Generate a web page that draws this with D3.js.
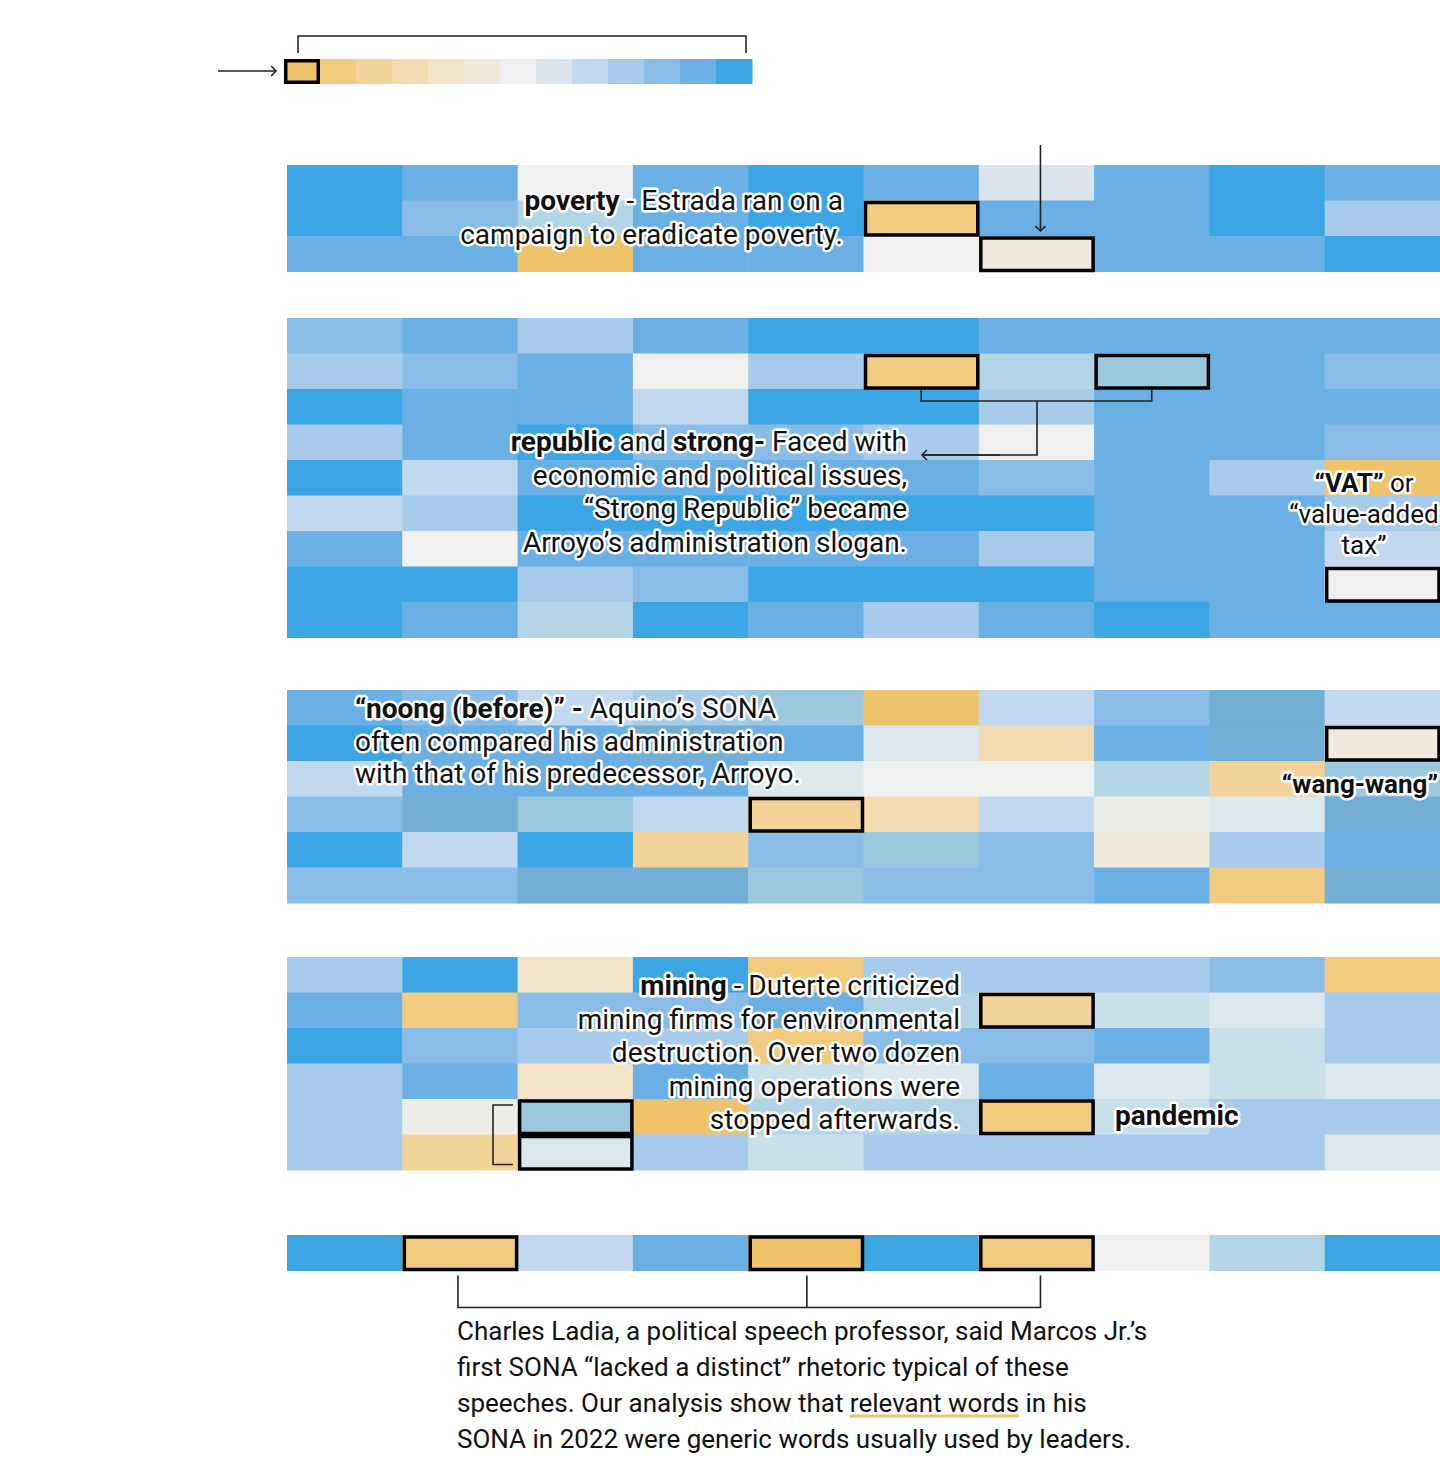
<!DOCTYPE html>
<html>
<head>
<meta charset="utf-8">
<script src="https://cdn.jsdelivr.net/npm/d3@7"></script>
<style>
  body { margin: 0; background: #fff; }
  svg { display: block; font-family: Roboto, "Noto Sans", sans-serif; }
  .halo { paint-order: stroke; stroke: #fff; stroke-width: 5px; stroke-linejoin: round; }
</style>
</head>
<body>
<div id="chart"></div>
<script>
// color steps: 0 = most "yellow" (rarely used), 12 = most "blue"
const palette = ["#eec36a","#f1cb80","#f3d39a","#f3dbb2","#f3e3c8","#f1e9dc","#f0f0f0",
                 "#dbe4ee","#c1d8ee","#a6cbeb","#89bde8","#6ab0e4","#3ca5e3"];
const altKeys = ["a1","a2","a3","a4","a5","a6"];
const altPalette = ["#73aed4","#9cc8df","#b3d6e7","#c8e0ea","#dbe8ee","#ecede9"];

const legendSteps = d3.range(13);

// one row per SONA, ten word columns
const estrada = [
  [12, 11, 6, 11, 12, 11, 7, 11, 12, 11],
  [12, 10, "a3", 11, 12, 1, 11, 11, 12, 9],
  [11, 11, 0, 11, 11, 6, 5, 11, 11, 12]
];
const arroyo = [
  [10, 11, 9, 11, 12, 12, 11, 11, 11, 11],
  [9, 10, 11, 6, 9, 1, "a3", "a2", 11, 10],
  [12, 11, 11, 8, 12, 12, 9, 11, 11, 11],
  [9, 11, 12, 10, 10, 9, 6, 11, 11, 10],
  [12, 8, 11, 11, 11, 11, 10, 11, 9, 0],
  [8, 9, 12, 12, 12, 12, 12, 11, 11, 9],
  [11, 6, 11, 11, 11, 11, 9, 11, 11, 8],
  [12, 12, 9, 10, 12, 12, 12, 11, 11, 6],
  [12, 11, "a3", 12, 11, 9, 11, 12, 11, 11]
];
const aquino = [
  [11, 10, 8, 9, "a2", 0, 8, 10, "a1", 8],
  [12, 11, 11, "a1", 11, "a5", 3, 11, "a1", 5],
  [8, 11, 11, 11, "a5", 6, 6, "a3", 2, "a2"],
  [10, "a1", "a2", 8, 2, 3, 8, "a6", "a5", "a1"],
  [12, 8, 12, 2, 10, "a2", 10, 5, 9, 11],
  [10, 10, "a1", "a1", "a2", 10, 10, 11, 1, "a1"]
];
const duterte = [
  [9, 12, 4, 12, 1, 9, 9, 9, 10, 1],
  [11, 1, 10, 10, 11, "a3", 2, "a4", "a5", 9],
  [12, 10, 9, 9, 1, 10, 10, 11, "a4", 9],
  [9, 11, 4, 11, "a4", "a5", 11, "a5", "a4", "a5"],
  [9, "a6", "a2", 0, "a3", "a3", 1, "a4", 9, 9],
  [9, 2, "a5", 9, "a4", 9, 9, 9, 9, "a5"]
];
const marcos = [
  [12, 1, 8, 11, 0, 12, 1, 6, "a3", 12]
];

// highlighted cells [row, col]
const estradaMarks = [[1, 5], [2, 6]];
const arroyoMarks = [[1, 5], [1, 7], [7, 9]];
const aquinoMarks = [[3, 4], [1, 9]];
const duterteMarks = [[1, 6], [4, 6], [4, 2], [5, 2]];
const marcosMarks = [[0, 1], [0, 4], [0, 6]];

const width = 1440, height = 1462;
const rowH = 35.5;

const color = d3.scaleOrdinal()
  .domain(legendSteps.concat(altKeys))
  .range(palette.concat(altPalette));

const x = d3.scaleBand().domain(d3.range(10)).range([287, 1440]);

const svg = d3.select("#chart").append("svg")
  .attr("width", width)
  .attr("height", height);

const cellLayer = svg.append("g");
const markLayer = svg.append("g");
const lineLayer = svg.append("g").attr("fill", "none").attr("stroke", "#222").attr("stroke-width", 1.6);
const textLayer = svg.append("g");

function drawBlock(rows, marks, top) {
  const y = d3.scaleBand().domain(d3.range(rows.length)).range([top, top + rows.length * rowH]);
  const cells = rows.flatMap((r, i) => r.map((v, j) => ({ i, j, v })));
  cellLayer.append("g").selectAll("rect")
    .data(cells)
    .join("rect")
    .attr("x", d => x(d.j))
    .attr("y", d => y(d.i))
    .attr("width", x.bandwidth() + 0.5)
    .attr("height", y.bandwidth() + 0.5)
    .attr("fill", d => color(d.v));
  markLayer.append("g").selectAll("rect")
    .data(marks)
    .join("rect")
    .attr("x", d => x(d[1]) + 2)
    .attr("y", d => y(d[0]) + 2)
    .attr("width", x.bandwidth() - 3)
    .attr("height", y.bandwidth() - 3)
    .attr("fill", d => color(rows[d[0]][d[1]]))
    .attr("stroke", "#000")
    .attr("stroke-width", 3.5);
  return y;
}

// legend strip
const lx = d3.scaleBand().domain(legendSteps).range([284, 752]);
const legend = svg.append("g");
legend.selectAll("rect")
  .data(legendSteps)
  .join("rect")
  .attr("x", d => lx(d))
  .attr("y", 59)
  .attr("width", lx.bandwidth() + 0.5)
  .attr("height", 25)
  .attr("fill", d => color(d));
legend.append("rect")
  .attr("x", lx(0) + 1.75).attr("y", 60.75)
  .attr("width", lx.bandwidth() - 3.5).attr("height", 21.5)
  .attr("fill", color(0)).attr("stroke", "#000").attr("stroke-width", 3.5);

lineLayer.append("path").attr("d", "M298,53V36H746V53");
arrow(218, 71, 276, 71);

const yE = drawBlock(estrada, estradaMarks, 165);
const yA = drawBlock(arroyo, arroyoMarks, 318);
const yQ = drawBlock(aquino, aquinoMarks, 690);
const yD = drawBlock(duterte, duterteMarks, 957);
const yM = drawBlock(marcos, marcosMarks, 1235);

const cx = j => x(j) + x.bandwidth() / 2;

function arrow(x1, y1, x2, y2) {
  lineLayer.append("line").attr("x1", x1).attr("y1", y1).attr("x2", x2).attr("y2", y2);
  const a = Math.atan2(y2 - y1, x2 - x1), s = 7;
  const p1 = [x2 - s * Math.cos(a - 0.8), y2 - s * Math.sin(a - 0.8)];
  const p2 = [x2 - s * Math.cos(a + 0.8), y2 - s * Math.sin(a + 0.8)];
  lineLayer.append("path").attr("d", `M${p1}L${x2},${y2}L${p2}`);
}

// Estrada arrow
arrow(cx(6) + 4, 145, cx(6) + 4, yE(2) - 5);

// Arroyo connector
lineLayer.append("path")
  .attr("d", `M${cx(5)},${yA(2)}V${yA(2) + 12}H${cx(7)}V${yA(2)}`);
lineLayer.append("path").attr("d", `M1037,${yA(2) + 12}V455H924`);
arrow(1000, 455, 922, 455);

// Duterte bracket
lineLayer.append("path").attr("d", `M513,${yD(4) + 6}H493V${yD(5) + 30}H513`);

// Marcos bracket
const by = yM(0) + rowH;
lineLayer.append("path")
  .attr("d", `M${cx(1) - 2},${by + 5}V${by + 37}H${cx(6) + 4}V${by + 5}M${cx(4) + 1},${by + 5}V${by + 37}`);

// annotation text, parts = [text, bold]
function note(lines, xPos, y0, anchor, lh, size) {
  const t = textLayer.append("text")
    .attr("class", "halo")
    .attr("text-anchor", anchor)
    .attr("font-size", size || 28)
    .attr("fill", "#111");
  lines.forEach((parts, k) => {
    parts.forEach((p, m) => {
      const ts = t.append("tspan").text(p[0]).attr("font-weight", p[1] ? 700 : 400);
      if (m === 0) ts.attr("x", xPos).attr("y", y0 + k * lh);
    });
  });
  return t;
}

note([[["poverty", true], [" - Estrada ran on a", false]],
      [["campaign to eradicate poverty.", false]]], 843, 210, "end", 33.5);

note([[["republic", true], [" and ", false], ["strong-", true], [" Faced with", false]],
      [["economic and political issues,", false]],
      [["“Strong Republic” became", false]],
      [["Arroyo’s administration slogan.", false]]], 907, 451, "end", 33.5);

note([[["“VAT”", true], [" or", false]],
      [["“value-added", false]],
      [["tax”", false]]], 1364, 492, "middle", 31, 26);

note([[["“noong (before)” -", true], [" Aquino’s SONA", false]],
      [["often compared his administration", false]],
      [["with that of his predecessor, Arroyo.", false]]], 355, 718, "start", 32.5);

note([[["“wang-wang”", true]]], 1438, 793, "end", 30, 26);

note([[["mining", true], [" - Duterte criticized", false]],
      [["mining firms for environmental", false]],
      [["destruction. Over two dozen", false]],
      [["mining operations were", false]],
      [["stopped afterwards.", false]]], 960, 995, "end", 33.6);

note([[["pandemic", true]]], 1115, 1125, "start", 30, 28);

// closing paragraph
const para = [
  "Charles Ladia, a political speech professor, said Marcos Jr.’s",
  "first SONA “lacked a distinct” rhetoric typical of these",
  "speeches. Our analysis show that relevant words in his",
  "SONA in 2022 were generic words usually used by leaders."
];
const pg = svg.append("g").attr("font-size", 26).attr("fill", "#111");
pg.selectAll("text")
  .data(para)
  .join("text")
  .attr("x", 457)
  .attr("y", (d, i) => 1340 + i * 36)
  .text(d => d);

const t3 = pg.selectAll("text").filter((d, i) => i === 2).node();
const pre = "speeches. Our analysis show that ";
const key = "relevant words";
const ux = 457 + t3.getSubStringLength(0, pre.length);
const uw = t3.getSubStringLength(pre.length, key.length);
pg.insert("line", "text")
  .attr("x1", ux).attr("x2", ux + uw)
  .attr("y1", 1416).attr("y2", 1416)
  .attr("stroke", color(0)).attr("stroke-width", 3);
</script>
</body>
</html>
